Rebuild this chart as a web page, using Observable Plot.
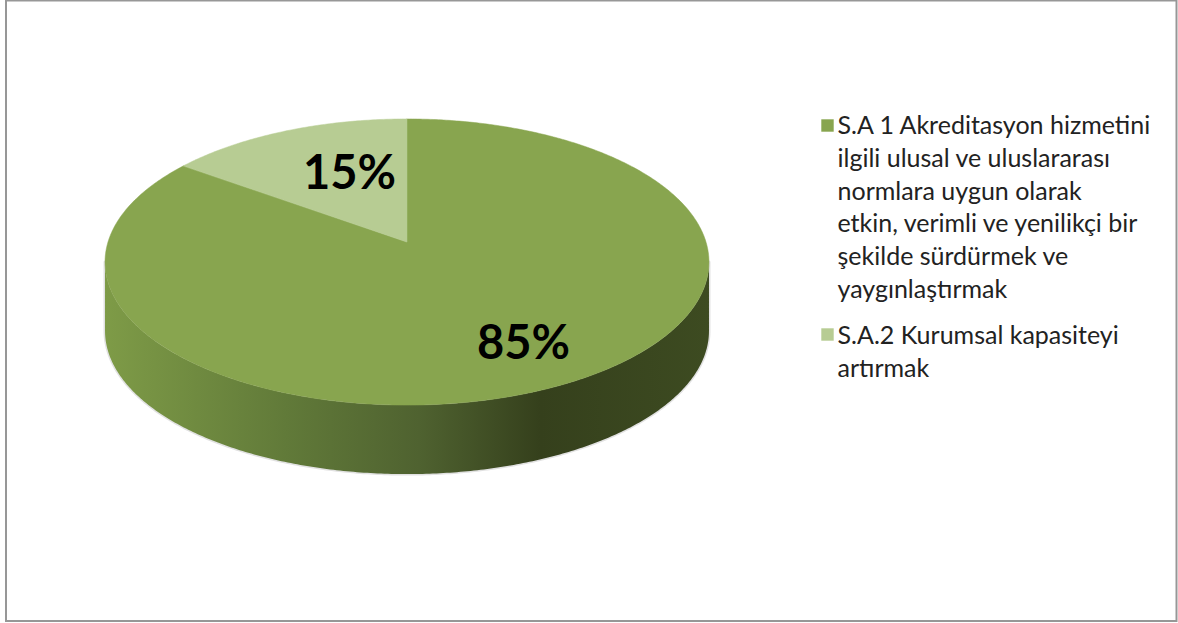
<!DOCTYPE html>
<html><head><meta charset="utf-8">
<script src="https://cdn.jsdelivr.net/npm/d3@7"></script>
<script src="https://cdn.jsdelivr.net/npm/@observablehq/plot@0.6"></script>
<style>html,body{margin:0;padding:0;background:#fff;overflow:hidden}svg{display:block}</style>
</head><body><div id="chart"></div>
<script>
const categories = ["S.A 1", "S.A.2"];
const values = [85, 15];
const sliceLabels = ["85%", "15%"];
const sliceColors = ["#88a54f", "#b7cc93"];
const legendText = [
  "S.A 1 Akreditasyon hizmetini\nilgili ulusal ve uluslararası\nnormlara uygun olarak\netkin, verimli ve yenilikçi bir\nşekilde sürdürmek ve\nyaygınlaştırmak",
  "S.A.2 Kurumsal kapasiteyi\nartırmak"
];

const W = 1178, H = 623;
// Perspective projection of the unit disk onto the tilted pie top
const cx = 407, apexY = 242, k = 0.14, A = 299, B = -106.4, depth = 69;
const project = (t, dy = 0) => {
  const u = Math.sin(t), v = Math.cos(t), d = k * v + 1;
  return { x: cx + A * u / d, y: (B * v + apexY) / d + dy };
};
const total = d3.sum(values);
const sweep = (from, to) => {
  const n = Math.max(2, Math.ceil((to - from) / 0.01));
  return d3.range(n + 1).map(i => from + (to - from) * i / n);
};
let acc = 0;
const slices = categories.flatMap((c, i) => {
  const a0 = acc / total * 2 * Math.PI;
  acc += values[i];
  const a1 = acc / total * 2 * Math.PI;
  return sweep(a0, a1).map(t => ({ category: c, ...project(t) }));
});
// Front wall: between the silhouette points of the top face and the same curve moved down
const rightT = Math.acos(-k), leftT = 2 * Math.PI - rightT;
const wall = sweep(rightT, leftT).map(t => {
  const p = project(t);
  return { x: p.x, y1: p.y, y2: p.y + depth };
});

const legendRows = categories.map((c, i) => ({
  text: legendText[i],
  color: sliceColors[i],
  swatchY: [125, 334][i],
  textY: [123, 333][i] + (legendText[i].split("\n").length - 1) * 32.8 / 2
}));
const labelRows = sliceLabels.map((t, i) => ({ t, x: [523, 349][i], y: [343, 173][i] }));

const plot = Plot.plot({
  width: W, height: H, margin: 0,
  x: { domain: [0, W], range: [0, W], axis: null },
  y: { domain: [0, H], range: [0, H], axis: null },
  marks: [
    Plot.rect([0], {
      x1: 6, x2: 1176.5, y1: 0.5, y2: 621,
      fill: "#fff", stroke: "#979797", strokeWidth: 2
    }),
    Plot.area(wall, {
      x1: "x", y1: "y1", x2: "x", y2: "y2", fill: "none",
      stroke: "#777", strokeOpacity: 0.22, strokeWidth: 3, curve: "linear"
    }),
    Plot.area(wall, { x1: "x", y1: "y1", x2: "x", y2: "y2", fill: "url(#wall)", curve: "linear" }),
    ...categories.map((c, i) => Plot.area(slices.filter(d => d.category === c), {
      x1: cx, y1: apexY, x2: "x", y2: "y", fill: sliceColors[i],
      stroke: sliceColors[i], strokeWidth: 0.5, curve: "linear"
    })),
    Plot.text(labelRows, {
      x: "x", y: "y", text: "t", fontSize: 47, fontWeight: 700,
      fontFamily: "Lato", fill: "#000", textAnchor: "middle", lineAnchor: "middle"
    }),
    Plot.dot(legendRows, {
      x: 827, y: "swatchY", symbol: "square", r: 7, fill: "color", stroke: "none"
    }),
    Plot.text(legendRows, {
      x: 837, y: "textY", text: "text", fontSize: 25, fontFamily: "Lato",
      fill: "#222", textAnchor: "start", lineAnchor: "middle", lineHeight: 32.8 / 25
    })
  ]
});
const defs = d3.select(plot).insert("defs", ":first-child");
const grad = defs.append("linearGradient").attr("id", "wall")
  .attr("x1", "0").attr("x2", "1").attr("y1", "0").attr("y2", "0");
[["0%", "#7e9b47"], ["30%", "#617a39"], ["52%", "#4f6230"], ["72%", "#35401c"], ["100%", "#3d4b21"]]
  .forEach(([o, c]) => grad.append("stop").attr("offset", o).attr("stop-color", c));
document.getElementById("chart").append(plot);
</script></body></html>
